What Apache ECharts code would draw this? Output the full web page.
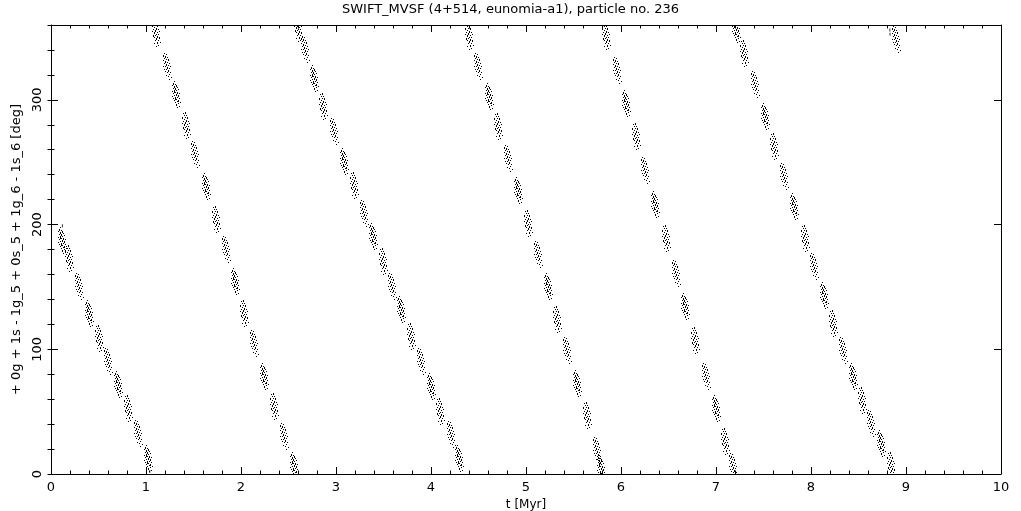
<!DOCTYPE html>
<html>
<head>
<meta charset="utf-8">
<script src="https://cdn.jsdelivr.net/npm/echarts@6/dist/echarts.min.js"></script>
<style>
  html, body { margin: 0; padding: 0; background: #fff; }
  #chart { width: 1021px; height: 511px; }
</style>
</head>
<body>
<div id="chart"></div>
<script>
// ---- data (blob centres of the dotted band) ----
const titleText = 'SWIFT_MVSF (4+514, eunomia-a1), particle no. 236';
const xName = 't [Myr]';
const yName = '+ 0g + 1s - 1g_5 + 0s_5 + 1g_6 - 1s_6 [deg]';

const seg1T = [0.119, 0.193, 0.298, 0.41, 0.509, 0.603, 0.709, 0.814, 0.919, 1.025];
const seg1A = [187.6, 173, 150, 128.8, 108.8, 90, 71.4, 52.7, 32.6, 12.6];
const seg2T = [1.112, 1.228, 1.323, 1.428, 1.526, 1.639, 1.744, 1.849, 1.947, 2.042, 2.147, 2.246, 2.351, 2.463, 2.561];
const seg2A = [353.3, 326.6, 303.9, 279.8, 255.8, 230.4, 203.7, 179.6, 154.2, 128.8, 104.8, 78.0, 54.0, 29.9, 7.2];
const seg3T = [2.603, 2.674, 2.772, 2.867, 2.982, 3.088, 3.193, 3.298, 3.393, 3.498, 3.593, 3.691, 3.796, 3.902, 4.007, 4.105, 4.211, 4.305];
const seg3A = [357.3, 340, 317.3, 294.5, 274.5, 250.4, 231.7, 209, 190.3, 170.2, 150.2, 131.5, 110.1, 90.1, 70, 50, 31.3, 12.6];
const seg4T = [4.4, 4.505, 4.611, 4.709, 4.814, 4.919, 5.025, 5.13, 5.235, 5.333, 5.439, 5.544, 5.649, 5.755, 5.797];
const seg4A = [350.6, 326.6, 302.5, 278.5, 253.1, 227.7, 201, 175.6, 150.2, 123.5, 99.4, 72.7, 47.3, 19.2, 4.5];
const seg5T = [5.849, 5.961, 6.06, 6.165, 6.263, 6.368, 6.474, 6.579, 6.684, 6.789, 6.895, 7.0, 7.095, 7.189];
const seg5A = [350.6, 323.9, 297.2, 270.4, 243.7, 215.7, 189, 160.9, 134.1, 107.4, 78, 52.7, 25.9, 5.9];
const seg6T = [7.218, 7.305, 7.411, 7.516, 7.614, 7.719, 7.824, 7.937, 8.035, 8.14, 8.235, 8.34, 8.445, 8.54, 8.639, 8.744, 8.849];
const seg6A = [356, 337.3, 311.9, 286.5, 262.4, 238.4, 214.3, 189, 166.2, 143.5, 120.8, 99.4, 78, 59.3, 40.6, 24.6, 7.2];
const seg7T = [8.905];
const seg7A = [348];
const dotT = [8.83, 8.832, 0.12, 1.04];
const dotA = [356, 352.5, 199, 2];

// ---- build the series data from the arrays ----
function pairs(T, A) { return T.map((t, i) => [t, A[i]]); }
const blobData = [].concat(
  pairs(seg1T, seg1A), pairs(seg2T, seg2A), pairs(seg3T, seg3A),
  pairs(seg4T, seg4A), pairs(seg5T, seg5A), pairs(seg6T, seg6A), pairs(seg7T, seg7A)
);
const dotData = pairs(dotT, dotA);

// speckle patterns (style only): small 1px dashes forming a noisy cluster
const speckleSets = [
  [[2,0,1],[1,2,2],[3,3,1],[0,4,1],[4,4,2],[2,5,2],[5,6,1],[1,7,1],[3,7,2],[6,8,1],[2,9,3],[4,9,1],
   [0,10,1],[5,11,2],[3,11,1],[1,12,1],[7,12,1],[4,13,2],[2,14,1],[6,14,2],[0,15,1],[3,16,3],[5,16,1],
   [7,17,1],[1,17,1],[4,18,1],[6,19,2],[2,19,1],[5,20,1],[3,21,1],[8,21,1],[6,22,1],[4,23,2],[7,25,1],[5,26,1]],
  [[3,0,2],[1,1,1],[2,3,1],[4,3,1],[0,5,2],[3,5,1],[5,5,2],[2,7,1],[4,8,2],[1,9,1],[6,9,1],[3,10,2],
   [0,11,1],[5,12,1],[2,12,2],[7,11,1],[4,14,1],[6,14,1],[1,15,2],[3,15,1],[5,16,2],[2,17,1],[7,17,2],
   [4,18,2],[6,20,1],[3,20,1],[5,22,2],[8,22,1],[2,23,1],[6,25,1],[4,26,1]],
  [[1,0,1],[3,1,1],[0,2,2],[2,3,2],[4,4,1],[1,5,1],[3,6,1],[5,6,2],[0,7,1],[2,8,2],[4,9,1],[6,10,1],
   [1,10,1],[3,11,2],[5,12,1],[0,13,1],[2,13,1],[4,14,2],[7,13,1],[6,15,1],[1,16,1],[3,16,1],[5,17,2],
   [2,18,1],[4,19,1],[7,19,1],[6,21,1],[3,22,1],[5,23,1],[8,24,1],[6,26,1]]
];
const speckles = speckleSets.map(set => {
  let minX = Infinity, maxX = -Infinity, minY = Infinity, maxY = -Infinity;
  set.forEach(d => { minX = Math.min(minX, d[0]); maxX = Math.max(maxX, d[0] + 1); minY = Math.min(minY, d[1]); maxY = Math.max(maxY, d[1] + d[2]); });
  return {
    path: set.map(d => 'M' + d[0] + ' ' + d[1] + 'h1v' + d[2] + 'h-1Z').join(''),
    w: maxX - minX, h: maxY - minY
  };
});

const FONT = 'DejaVu Sans';
const black = '#000';

const chart = echarts.init(document.getElementById('chart'), null, { renderer: 'canvas' });

const baseX = {
  type: 'value', min: 0, max: 10, interval: 1,
  axisLine: { show: true, onZero: false, lineStyle: { color: black, width: 1 } },
  axisTick: { show: true, inside: true, length: 7, lineStyle: { color: black } },
  minorTick: { show: true, splitNumber: 5, length: 3.5, lineStyle: { color: black } },
  splitLine: { show: false }, minorSplitLine: { show: false }
};
const baseYMajor = {
  type: 'value', min: 0, max: 360, interval: 100,
  axisLine: { show: true, onZero: false, lineStyle: { color: black, width: 1 } },
  axisTick: { show: true, inside: true, length: 7, lineStyle: { color: black } },
  splitLine: { show: false }
};
const baseYMinor = {
  type: 'value', min: 0, max: 360, interval: 20,
  axisLine: { show: false },
  axisTick: { show: true, inside: true, length: 3.5, lineStyle: { color: black } },
  axisLabel: { show: false },
  splitLine: { show: false }
};

chart.setOption({
  animation: false,
  backgroundColor: '#fff',
  textStyle: { fontFamily: FONT, color: black },
  title: {
    text: titleText, left: 'center', top: 3, padding: 0,
    textStyle: { fontFamily: FONT, fontSize: 13, fontWeight: 'normal', color: black }
  },
  grid: { left: 51, right: 20, top: 25, bottom: 37, containLabel: false, outerBoundsMode: 'none' },
  xAxis: [
    Object.assign({}, baseX, {
      position: 'bottom',
      name: xName, nameLocation: 'middle', nameGap: 20,
      nameTextStyle: { fontFamily: FONT, fontSize: 12, color: black },
      axisLabel: { show: true, margin: 7, fontFamily: FONT, fontSize: 13, color: black }
    }),
    Object.assign({}, baseX, { position: 'top', axisLabel: { show: false } })
  ],
  yAxis: [
    Object.assign({}, baseYMajor, {
      position: 'left',
      name: yName, nameLocation: 'middle', nameGap: 26,
      nameTextStyle: { fontFamily: FONT, fontSize: 13, color: black },
      axisLabel: { show: true, rotate: 90, margin: 7, fontFamily: FONT, fontSize: 13, color: black, showMaxLabel: false }
    }),
    Object.assign({}, baseYMinor, { position: 'left' }),
    Object.assign({}, baseYMajor, { position: 'right', axisLabel: { show: false } }),
    Object.assign({}, baseYMinor, { position: 'right' })
  ],
  series: [
    {
      type: 'custom',
      xAxisIndex: 0, yAxisIndex: 0,
      clip: true,
      data: blobData,
      encode: { x: 0, y: 1 },
      renderItem: function (params, api) {
        const p = api.coord([api.value(0), api.value(1)]);
        const s = speckles[params.dataIndex % speckles.length];
        return {
          type: 'path',
          shape: {
            pathData: s.path,
            x: Math.round(p[0] - s.w / 2), y: Math.round(p[1] - s.h / 2),
            width: s.w, height: s.h, layout: 'cover'
          },
          style: { fill: black }
        };
      }
    },
    {
      type: 'scatter',
      xAxisIndex: 0, yAxisIndex: 0,
      clip: true,
      data: dotData,
      symbol: 'rect', symbolSize: [1, 3],
      itemStyle: { color: black }
    }
  ]
});
</script>
</body>
</html>
